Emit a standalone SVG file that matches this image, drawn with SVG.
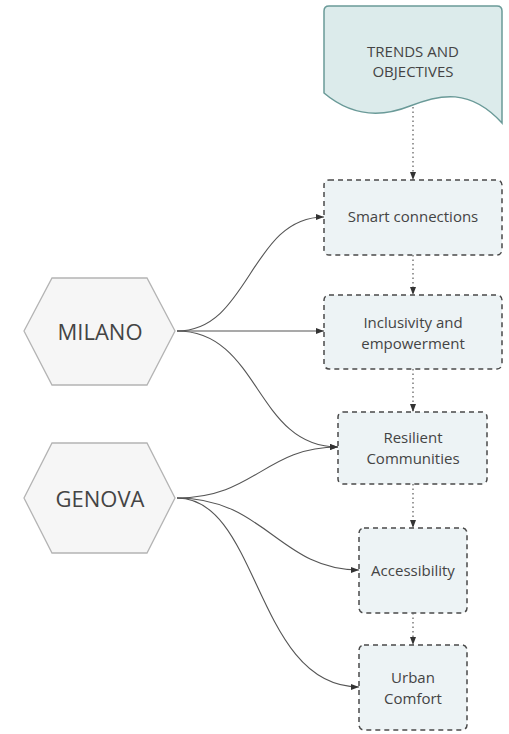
<svg xmlns="http://www.w3.org/2000/svg" width="509" height="734" viewBox="0 0 509 734">
<defs>
<marker id="arr" markerWidth="8" markerHeight="6" refX="8" refY="3" orient="auto" markerUnits="userSpaceOnUse">
<path d="M0,0 L8,3 L0,6 Z" fill="#333"/>
</marker>
<style>
.box{fill:#edf3f5;stroke:#4a4a4a;stroke-width:1.5;stroke-dasharray:5,4}
.hex{fill:#f6f6f6;stroke:#b4b4b4;stroke-width:1.3}
.t{font-family:"Open Sans","Liberation Sans",sans-serif;fill:#444;text-anchor:middle;dominant-baseline:central}
.s{font-size:15px}
.b{font-size:22px}
.c{fill:none;stroke:#555;stroke-width:1.1}
.d{fill:none;stroke:#666;stroke-width:1.3;stroke-dasharray:1.5,3}
</style>
</defs>
<rect width="509" height="734" fill="#ffffff"/>
<g id="trends">
<path d="M329,6 L497,6 Q502,6 502,11 L502,123 C470,88 440,94 410,106 C380,118 350,115 324,93 L324,11 Q324,6 329,6 Z" fill="#dcebeb" stroke="#6a9a98" stroke-width="1.5"/>
<text class="t s" x="413" y="51">TRENDS AND</text>
<text class="t s" x="413" y="71">OBJECTIVES</text>
</g>
<g id="smart">
<rect class="box" x="324" y="180" width="178" height="75" rx="5"/>
<text class="t s" x="413" y="216">Smart connections</text>
</g>
<g id="inclusivity">
<rect class="box" x="324" y="295" width="178" height="74" rx="5"/>
<text class="t s" x="413" y="322">Inclusivity and</text>
<text class="t s" x="413" y="343">empowerment</text>
</g>
<g id="resilient">
<rect class="box" x="338" y="412" width="149" height="72" rx="5"/>
<text class="t s" x="413" y="437">Resilient</text>
<text class="t s" x="413" y="458">Communities</text>
</g>
<g id="accessibility">
<rect class="box" x="359" y="528" width="108" height="85" rx="5"/>
<text class="t s" x="413" y="570">Accessibility</text>
</g>
<g id="urban">
<rect class="box" x="359" y="645" width="108" height="85" rx="5"/>
<text class="t s" x="413" y="677">Urban</text>
<text class="t s" x="413" y="698">Comfort</text>
</g>
<g id="milano">
<path class="hex" d="M24,331 L52,278 L147,278 L175,331 L147,385 L52,385 Z"/>
<text class="t b" x="100" y="331">MILANO</text>
</g>
<g id="genova">
<path class="hex" d="M24,498 L52,443 L147,443 L175,498 L147,553 L52,553 Z"/>
<text class="t b" x="100" y="498">GENOVA</text>
</g>
<g id="connectors">
<path class="d" d="M413,107 L413,180" marker-end="url(#arr)"/>
<path class="d" d="M413,255 L413,295" marker-end="url(#arr)"/>
<path class="d" d="M413,369 L413,412" marker-end="url(#arr)"/>
<path class="d" d="M413,484 L413,528" marker-end="url(#arr)"/>
<path class="d" d="M413,613 L413,645" marker-end="url(#arr)"/>
<path class="c" d="M177,331 C250,331 250,217 324,217" marker-end="url(#arr)"/>
<path class="c" d="M177,331 L324,331" marker-end="url(#arr)"/>
<path class="c" d="M177,331 C260,331 255,447 338,447" marker-end="url(#arr)"/>
<path class="c" d="M177,498 C255,498 265,447 338,447" marker-end="url(#arr)"/>
<path class="c" d="M177,498 C265,498 280,570 359,570" marker-end="url(#arr)"/>
<path class="c" d="M177,498 C260,498 255,687 359,687" marker-end="url(#arr)"/>
</g>
</svg>
